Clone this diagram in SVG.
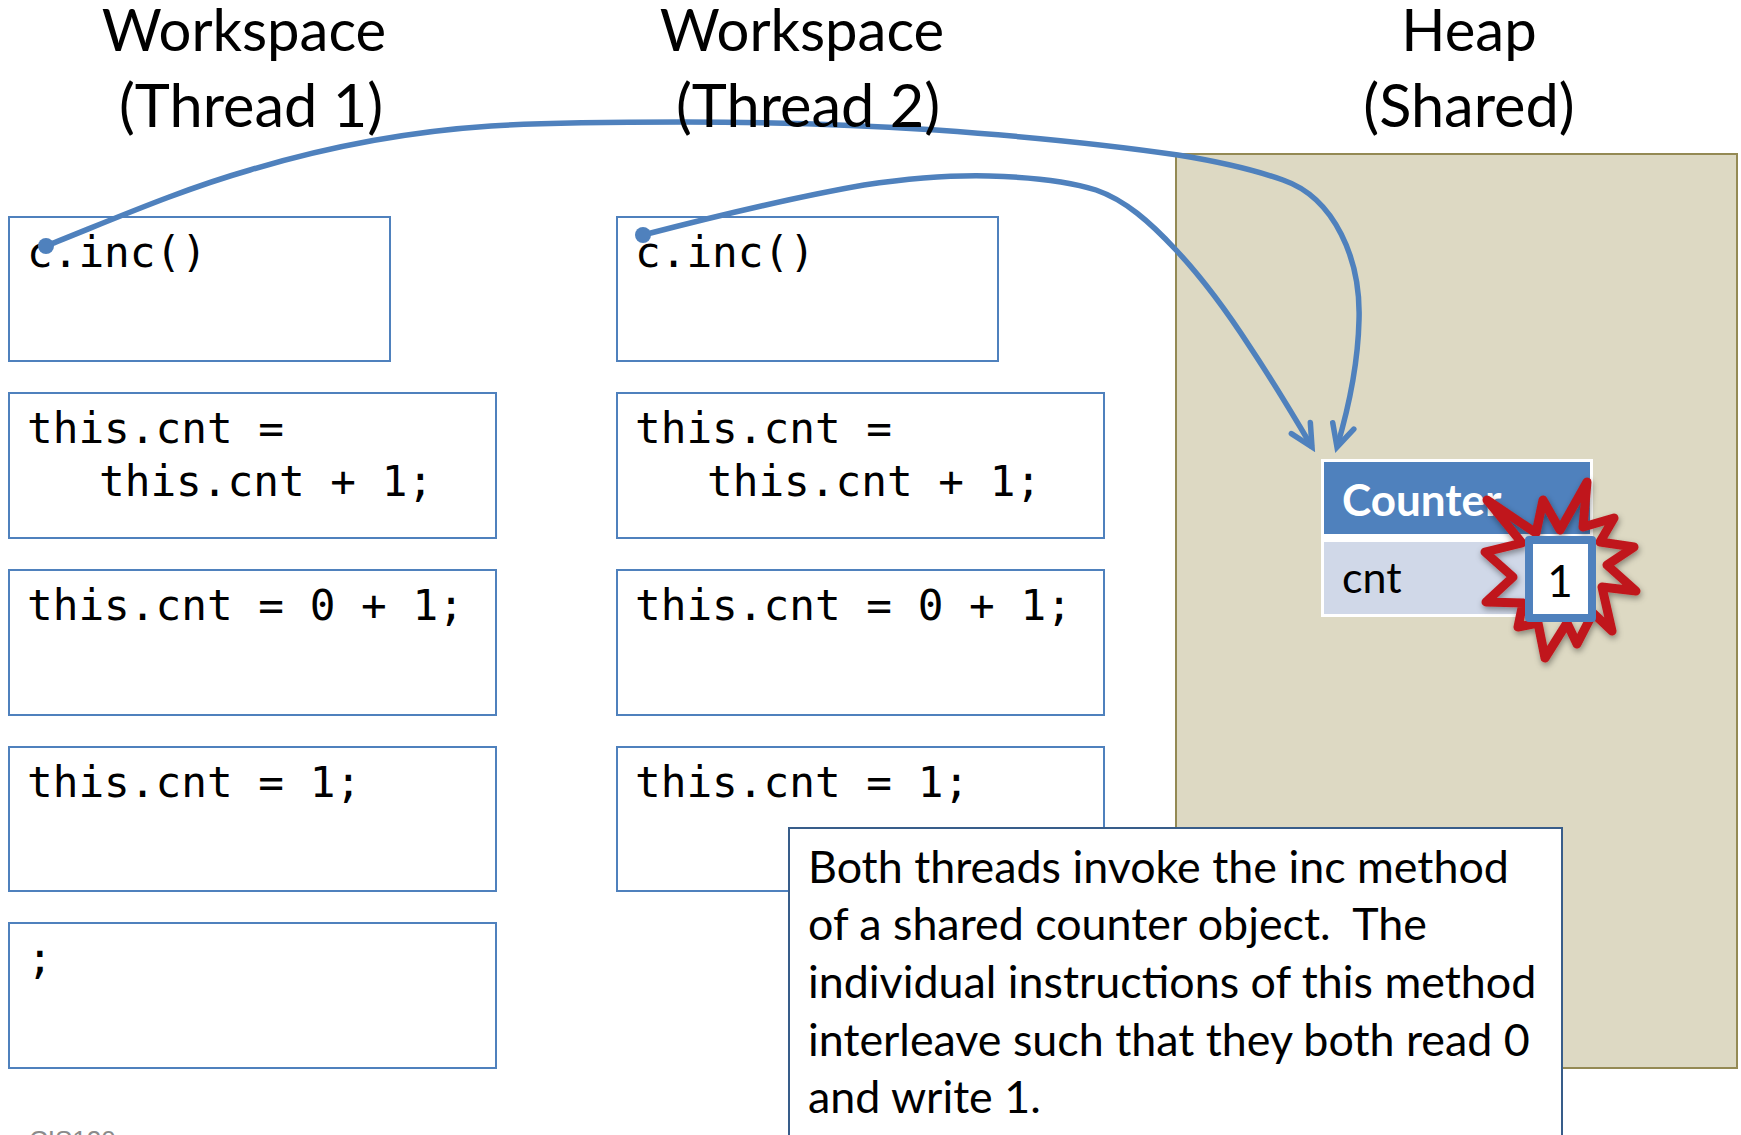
<svg xmlns="http://www.w3.org/2000/svg" width="1741" height="1135" viewBox="0 0 1741 1135">
<style>
.title{font:58px Lato,"Open Sans",sans-serif;fill:#000;text-anchor:middle}
.sub{font-size:59.5px}
.code{font:42.7px "DejaVu Sans Mono","Liberation Mono",monospace;fill:#000}
.box{fill:#fff;stroke:#4f81bd;stroke-width:2}
.note{font:44.8px Lato,"Open Sans",sans-serif;fill:#000;white-space:pre}
.wire{fill:none;stroke:#4f81bd;stroke-width:5.5;marker-end:url(#arrow)}
.dot{fill:#4f81bd}
</style>
<defs>
<marker id="arrow" markerUnits="userSpaceOnUse" markerWidth="50" markerHeight="50" refX="30" refY="25" orient="auto" viewBox="0 0 50 50">
<path d="M8,14 L30,25 L8,36" fill="none" stroke="#4f81bd" stroke-width="5.5" stroke-linecap="round"/>
</marker>
<filter id="shadow" x="-20%" y="-20%" width="140%" height="140%"><feDropShadow dx="1" dy="3" stdDeviation="3" flood-color="#000" flood-opacity="0.4"/></filter>
</defs>
<rect width="1741" height="1135" fill="#fff"/>
<g id="heap"><rect x="1176" y="154" width="561" height="914" fill="#ddd9c3" stroke="#948a54" stroke-width="2"/></g>
<g id="t1-frame1"><rect class="box" x="9" y="217" width="381" height="144"/><text class="code" x="27" y="267">c.inc()</text></g>
<g id="t1-frame2"><rect class="box" x="9" y="393" width="487" height="145"/><text class="code" x="27" y="443">this.cnt =</text><text class="code" x="99" y="496">this.cnt + 1;</text></g>
<g id="t1-frame3"><rect class="box" x="9" y="570" width="487" height="145"/><text class="code" x="27" y="620">this.cnt = 0 + 1;</text></g>
<g id="t1-frame4"><rect class="box" x="9" y="747" width="487" height="144"/><text class="code" x="27" y="797">this.cnt = 1;</text></g>
<g id="t1-frame5"><rect class="box" x="9" y="923" width="487" height="145"/><text class="code" x="27" y="973">;</text></g>
<g id="t2-frame1"><rect class="box" x="617" y="217" width="381" height="144"/><text class="code" x="635" y="267">c.inc()</text></g>
<g id="t2-frame2"><rect class="box" x="617" y="393" width="487" height="145"/><text class="code" x="635" y="443">this.cnt =</text><text class="code" x="707" y="496">this.cnt + 1;</text></g>
<g id="t2-frame3"><rect class="box" x="617" y="570" width="487" height="145"/><text class="code" x="635" y="620">this.cnt = 0 + 1;</text></g>
<g id="t2-frame4"><rect class="box" x="617" y="747" width="487" height="144"/><text class="code" x="635" y="797">this.cnt = 1;</text></g>
<g id="counter">
<rect x="1321" y="459" width="272" height="158" fill="#fff"/>
<rect x="1324" y="462" width="266" height="72" fill="#4f81bd"/>
<rect x="1324" y="542" width="266" height="72" fill="#d0d8e8"/>
<text x="1342" y="516" font-family="Lato,sans-serif" font-weight="700" font-size="44" fill="#fff">Counter</text>
<text x="1342" y="593" font-family="Lato,sans-serif" font-size="43" fill="#000">cnt</text>
</g>
<g id="burst">
<polygon points="1487,500 1536,533 1543,500 1560,530 1587,482 1583,527 1614,518 1600,542 1634,547 1607,565 1636,591 1602,587 1612,631 1593,613 1577,644 1567,623 1545,658 1538,623 1518,627 1523,603 1486,602 1513,577 1485,552 1522,543" fill="none" stroke="#c0191c" stroke-width="9" stroke-linejoin="round" filter="url(#shadow)"/>
</g>
<g id="value">
<rect x="1529" y="540" width="63" height="78" fill="#fff" stroke="#4f81bd" stroke-width="8" stroke-linejoin="round"/>
<text x="1560" y="597" font-family="Lato,sans-serif" font-size="44" text-anchor="middle" fill="#000">1</text>
</g>
<g id="connectors">
<path class="wire" d="M46,246 C114,219 180,190 250,170 C320,149 400,132 491,126 C550,122 620,122 683,122 C770,122 860,125 936,130 C1020,136 1110,145 1178,155 C1215,161 1255,170 1283,180 C1335,198 1361,260 1359,320 C1358,365 1348,410 1337,447"/>
<path class="wire" d="M643,235 C720,215 795,197 864,185 C905,179 950,175 989,176 C1030,177 1065,180 1096,190 C1125,200 1150,222 1176,250 C1205,281 1228,313 1250,347 C1272,380 1292,413 1312,447"/>
<circle class="dot" cx="46" cy="246" r="8"/>
<circle class="dot" cx="643" cy="235" r="8"/>
</g>
<g id="titles">
<text class="title" x="244" y="51">Workspace</text>
<text class="title sub" x="251" y="127">(Thread 1)</text>
<text class="title" x="802" y="51">Workspace</text>
<text class="title sub" x="808" y="127">(Thread 2)</text>
<text class="title" x="1469" y="51">Heap</text>
<text class="title sub" x="1469" y="127">(Shared)</text>
</g>
<g id="note">
<rect x="789" y="828" width="773" height="340" fill="#fff" stroke="#385d8a" stroke-width="2"/>
<text class="note" x="808" y="883">Both threads invoke the inc method</text>
<text class="note" x="808" y="940">of a shared counter object.  The</text>
<text class="note" x="808" y="998">individual instructions of this method</text>
<text class="note" x="808" y="1056">interleave such that they both read 0</text>
<text class="note" x="808" y="1113">and write 1.</text>
</g>
<g id="footer"><text x="29" y="1149" font-family="Liberation Sans,sans-serif" font-size="26" fill="#8b8b8b">CIS120</text></g>
</svg>
